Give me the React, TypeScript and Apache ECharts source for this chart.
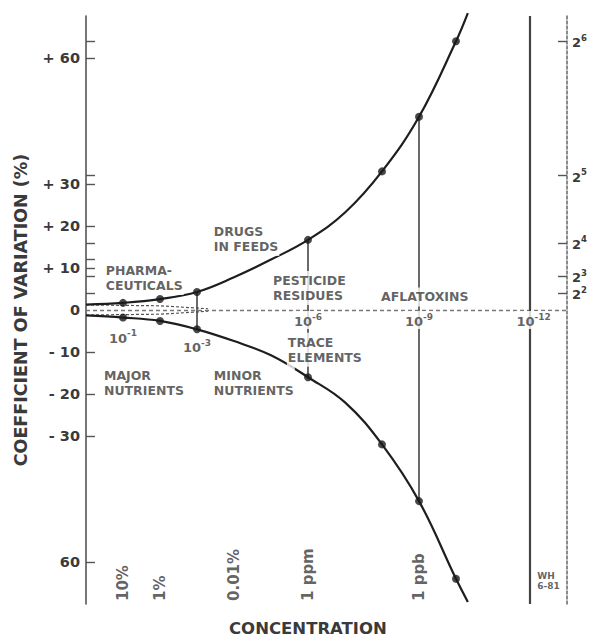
import React, { useEffect, useRef } from "react";
import * as echarts from "echarts";

// x = -log10(concentration), y = coefficient of variation (%)
const curveK = [0, 1, 2, 3, 4, 5, 6, 7, 8, 9, 10, 10.32];
const upperCurve = [1.3, 1.7, 2.6, 4.3, 7.8, 12.0, 16.7, 23.2, 33.0, 46.0, 64.0, 70.7];
const lowerCurve = [-1.3, -1.8, -2.6, -4.6, -7.4, -10.8, -16.0, -22.0, -32.0, -45.5, -64.0, -69.5];

const pointK = [1, 2, 3, 6, 8, 9, 10];
const upperPoints = [1.7, 2.6, 4.3, 16.7, 33.0, 46.0, 64.0];
const lowerPoints = [-1.8, -2.6, -4.6, -16.0, -32.0, -45.5, -64.0];

const connectorK = [3, 6, 9];
const limitK = 12;

const bandK = [0, 2, 3.3];
const bandUpper = [1.2, 1.0, 0.3];
const bandLower = [-1.2, -1.0, -0.3];

const leftLabelValues = [60, 30, 20, 10, 0, -10, -20, -30, -60];
const leftLabelText = ["+ 60", "+ 30", "+ 20", "+ 10", "0", "- 10", "- 20", "- 30", "60"];
const leftTickValues = [64, 60, 32, 30, 20, 16, 12, 10, 8, 4, -10, -20, -30, -60];

const rightLabelValues = [64, 32, 16, 8, 4];
const rightLabelExp = ["6", "5", "4", "3", "2"];

const annoText = [
  "PHARMA-\nCEUTICALS",
  "MAJOR\nNUTRIENTS",
  "DRUGS\nIN FEEDS",
  "MINOR\nNUTRIENTS",
  "PESTICIDE\nRESIDUES",
  "TRACE\nELEMENTS",
  "AFLATOXINS",
];
const annoK = [0.51, 0.46, 3.43, 3.43, 5.03, 5.43, 7.95];
const annoY = [7.6, -17.5, 16.9, -17.5, 5.2, -9.5, 3.1];

const expText = ["-1", "-3", "-6", "-9", "-12"];
const expK = [1, 3, 6, 9, 12.1];
const expY = [-6.4, -8.6, -2.4, -2.4, -2.4];

const bottomText = ["10%", "1%", "0.01%", "1 ppm", "1 ppb"];
const bottomK = [1, 2, 4, 6, 9];
const bottomY = -69.3;

const FONT = "'DejaVu Sans', 'Liberation Sans', sans-serif";
const INK = "#3a3a3a";

export default function App() {
  const ref = useRef<HTMLDivElement>(null);

  useEffect(() => {
    if (!ref.current) return;
    const chart = echarts.init(ref.current, null, { renderer: "svg" });

    const pair = (ks: number[], vs: number[]) => ks.map((k, i) => [k, vs[i]]);

    const connectorSeries = connectorK.map((k) => {
      const idx = pointK.indexOf(k);
      return {
        type: "line",
        data: [
          [k, upperPoints[idx]],
          [k, lowerPoints[idx]],
        ],
        symbol: "none",
        lineStyle: { color: "#444", width: 1.6 },
        z: 3,
        silent: true,
      };
    });

    const hiddenItem = { color: "rgba(0,0,0,0)" };

    chart.setOption({
      animation: false,
      backgroundColor: "#fff",
      title: {
        text: "CONCENTRATION",
        left: 229,
        top: 620,
        padding: 0,
        textStyle: { fontFamily: FONT, fontSize: 16.5, fontWeight: "bold", color: INK },
      },
      grid: { left: 86, right: 22, top: 16, bottom: 37, containLabel: false, outerBoundsMode: "none" },
      xAxis: { type: "value", min: 0, max: 13, show: false },
      yAxis: [
        {
          type: "value",
          min: -70,
          max: 70,
          position: "left",
          name: "COEFFICIENT OF VARIATION (%)",
          nameLocation: "middle",
          nameRotate: 90,
          nameGap: 56,
          nameTextStyle: { fontFamily: FONT, fontSize: 17.5, fontWeight: "bold", color: INK },
          axisLine: { show: true, lineStyle: { color: "#555", width: 1.6 } },
          axisTick: {
            show: true,
            inside: true,
            length: 9,
            customValues: leftTickValues,
            lineStyle: { color: "#555", width: 1.4 },
          },
          axisLabel: {
            customValues: leftLabelValues,
            margin: 6,
            hideOverlap: false,
            fontFamily: FONT,
            fontSize: 14.5,
            fontWeight: "bold",
            color: INK,
            formatter: (v: number) => {
              const i = leftLabelValues.indexOf(v);
              return i >= 0 ? leftLabelText[i] : "";
            },
          },
          splitLine: { show: false },
        },
        {
          type: "value",
          min: -70,
          max: 70,
          position: "right",
          axisLine: { show: true, lineStyle: { color: "#666", width: 1.5, type: [3, 2] } },
          axisTick: {
            show: true,
            inside: true,
            length: 9,
            customValues: rightLabelValues,
            lineStyle: { color: "#555", width: 1.4 },
          },
          axisLabel: {
            customValues: rightLabelValues,
            margin: 5,
            hideOverlap: false,
            color: INK,
            formatter: (v: number) => {
              const i = rightLabelValues.indexOf(v);
              return i >= 0 ? `{b|2}{s|${rightLabelExp[i]}}` : "";
            },
            rich: {
              b: { fontFamily: FONT, fontSize: 13, fontWeight: "bold", color: INK, lineHeight: 16, verticalAlign: "bottom" },
              s: { fontFamily: FONT, fontSize: 8.5, fontWeight: "bold", color: INK, lineHeight: 16, verticalAlign: "top" },
            },
          },
          splitLine: { show: false },
        },
      ],
      series: [
        {
          type: "line",
          data: pair(bandK, bandUpper),
          symbol: "none",
          lineStyle: { color: "#555", width: 1.2, type: [3, 2] },
          z: 2,
          silent: true,
          markLine: {
            silent: true,
            symbol: "none",
            label: { show: false },
            data: [
              { yAxis: 0, lineStyle: { color: "#777", width: 1.3, type: [4, 3] } },
              { xAxis: limitK, lineStyle: { color: "#444", width: 2.2, type: "solid" } },
            ],
          },
        },
        {
          type: "line",
          data: pair(bandK, bandLower),
          symbol: "none",
          lineStyle: { color: "#555", width: 1.2, type: [3, 2] },
          z: 2,
          silent: true,
        },
        {
          type: "line",
          data: pair(curveK, upperCurve),
          smooth: 0.4,
          clip: false,
          symbol: "none",
          lineStyle: { color: "#1e1e1e", width: 2.2 },
          z: 4,
          silent: true,
        },
        {
          type: "line",
          data: pair(curveK, lowerCurve),
          smooth: 0.4,
          clip: false,
          symbol: "none",
          lineStyle: { color: "#1e1e1e", width: 2.2 },
          z: 4,
          silent: true,
        },
        ...connectorSeries,
        {
          type: "scatter",
          data: pair(pointK, upperPoints),
          symbolSize: 8,
          itemStyle: { color: "#1a1a1a" },
          z: 6,
          silent: true,
        },
        {
          type: "scatter",
          data: pair(pointK, lowerPoints),
          symbolSize: 8,
          itemStyle: { color: "#1a1a1a" },
          z: 6,
          silent: true,
        },
        {
          type: "scatter",
          symbolSize: 0.1,
          itemStyle: hiddenItem,
          z: 10,
          silent: true,
          data: annoText.map((t, i) => ({ value: [annoK[i], annoY[i]], name: t })),
          label: {
            show: true,
            position: [0, 0],
            align: "left",
            verticalAlign: "middle",
            formatter: (p: any) => p.name,
            fontFamily: FONT,
            fontSize: 12.5,
            fontWeight: "bold",
            lineHeight: 15,
            color: INK,
            backgroundColor: "#fff",
            padding: [2, 1, 2, 1],
          },
        },
        {
          type: "scatter",
          symbolSize: 0.1,
          itemStyle: hiddenItem,
          z: 10,
          silent: true,
          data: expText.map((t, i) => ({ value: [expK[i], expY[i]], name: t })),
          label: {
            show: true,
            position: [0, 0],
            align: "center",
            verticalAlign: "middle",
            formatter: (p: any) => `{b|10}{s|${p.name}}`,
            backgroundColor: "#fff",
            padding: [1, 2, 1, 2],
            rich: {
              b: { fontFamily: FONT, fontSize: 13, fontWeight: "bold", color: INK, lineHeight: 16, verticalAlign: "bottom" },
              s: { fontFamily: FONT, fontSize: 9, fontWeight: "bold", color: INK, lineHeight: 16, verticalAlign: "top" },
            },
          },
        },
        {
          type: "scatter",
          symbolSize: 0.1,
          itemStyle: hiddenItem,
          z: 10,
          silent: true,
          data: bottomText.map((t, i) => ({ value: [bottomK[i], bottomY], name: t })),
          label: {
            show: true,
            position: [0, 0],
            rotate: 90,
            align: "left",
            verticalAlign: "middle",
            formatter: (p: any) => p.name,
            fontFamily: FONT,
            fontSize: 15,
            fontWeight: "bold",
            color: INK,
          },
        },
        {
          type: "scatter",
          symbolSize: 0.1,
          itemStyle: hiddenItem,
          z: 10,
          silent: true,
          data: [{ value: [12.2, -64.6], name: "WH\n6-81" }],
          label: {
            show: true,
            position: [0, 0],
            align: "left",
            verticalAlign: "middle",
            formatter: (p: any) => p.name,
            fontFamily: FONT,
            fontSize: 9,
            fontWeight: "bold",
            lineHeight: 10,
            color: INK,
          },
        },
      ],
    });

    return () => {
      chart.dispose();
    };
  }, []);

  return (
    <div
      ref={ref}
      style={{ position: "fixed", left: 0, top: 0, width: 589, height: 641, background: "#fff" }}
    />
  );
}
